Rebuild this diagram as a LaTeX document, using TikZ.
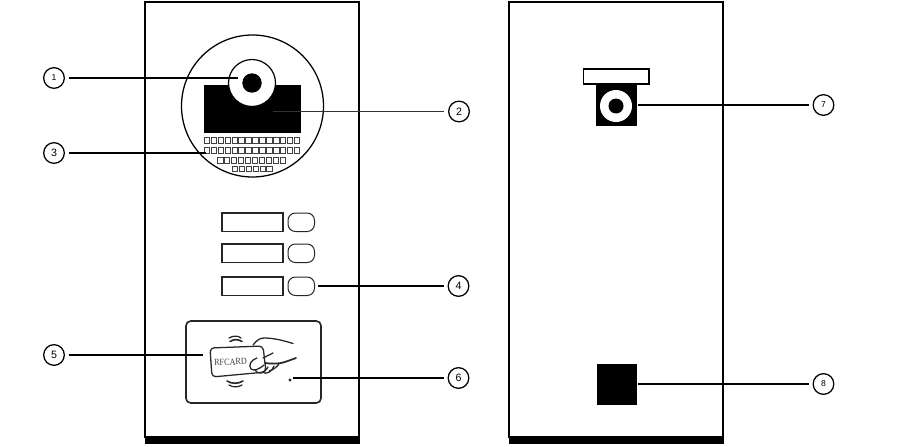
\documentclass[tikz,border=0pt]{standalone}
\usepackage{fontspec}
\setmainfont{Liberation Sans}
\newfontfamily\cardfont{Liberation Serif}
\tikzset{
  x=0.75pt,y=-0.75pt,
  panel/.style={draw=black,line width=1.1pt,fill=white},
  callout/.style={circle,draw=black,line width=0.95pt,minimum size=15.5pt,inner sep=0pt,font=\fontsize{8}{9}\selectfont},
  smallnum/.style={font=\fontsize{6.5}{7}\selectfont},
  leader/.style={draw=black,line width=0.85pt},
  blackfill/.style={fill=black,draw=none},
  grille/.style={draw=black!75,line width=0.4pt,fill=white},
  keybox/.style={draw=black!85,line width=0.95pt,fill=white},
  handline/.style={draw=black!85,line width=0.95pt,line cap=round,line join=round}
}
\newcommand{\grillerow}[4]{% x-start, y-start, count, height
  \foreach \i in {1,...,#3}{
    \pgfmathsetmacro{\xa}{#1+(\i-1)*6.95}
    \draw[grille] (\xa,#2) rectangle ++(5.3,#4);
  }
}
\begin{document}
\begin{tikzpicture}
\useasboundingbox[fill=white] (0,0) rectangle (916,446);
% panels
\draw[panel] (145,2) rectangle (359,437);
\fill[black] (144.5,436) rectangle (359.5,444);
\draw[panel] (509,2) rectangle (723,437);
\fill[black] (508.5,436) rectangle (723.5,444);
% lens dome
\draw[black,line width=0.95pt,fill=white] (252.5,106) circle (71);
\fill[black] (204,85) rectangle (301,133);
\draw[black,line width=0.9pt,fill=white] (252,83) circle (23.5);
\fill[black] (252,83) circle (9.7);
\grillerow{204}{137}{14}{6.3}
\grillerow{204}{147}{14}{6.3}
\grillerow{217.5}{157}{10}{6}
\grillerow{232}{166}{6}{5.2}
% buttons
\foreach \y in {213,244,277}{
  \draw[keybox] (222,\y) rectangle (283,\y+18.5);
  \draw[keybox,line width=0.75pt,rounded corners=5.5pt] (288,\y) rectangle (314.5,\y+18.5);
}
% card reader
\draw[draw=black!85,line width=1.2pt,rounded corners=3.5pt] (186,321) rectangle (321,403);
\draw[handline,rounded corners=3pt] (210,348) -- (263,346) -- (266,372) -- (212,377) -- cycle;
\node[font=\fontsize{7}{8}\selectfont\cardfont,text=black!75,rotate=3,inner sep=0pt,xscale=0.88] (rf) at (230.5,362) {RFCARD};
\draw[handline] (253,345) .. controls (257,340) and (260,337.5) .. (266,338) .. controls (276,338.5) and (285,341) .. (293,343.5);
\draw[handline] (263,358) -- (273,353);
\draw[handline,line width=1.3pt] (265,363) .. controls (272,364) and (279,364) .. (285,362) -- (296,358);
\draw[handline] (257,358) .. controls (251,360) and (248,365) .. (251,369) .. controls (254,371) and (258,370) .. (264,365);
\draw[handline] (255,370) .. controls (258,375) and (264,374) .. (268,367);
\draw[handline] (262,372) .. controls (266,375) and (272,372) .. (274,366);
\draw[handline] (269,371) .. controls (273,370) and (277,367) .. (279,364);
\draw[handline] (229,338) .. controls (233,335.5) and (238,335.5) .. (241,338);
\draw[handline,line width=1.2pt] (230,341.5) .. controls (234,339) and (238,339) .. (242,341.5);
\draw[handline,line width=1.2pt] (227,381) .. controls (232,384) and (238,384) .. (243,381);
\draw[handline] (229,385) .. controls (233,387.5) and (238,387.5) .. (242,385);
\fill[black!85] (290,380) circle (1.6);
% back panel parts
\fill[black] (596,84) rectangle (637,126);
\draw[black,line width=1.4pt,fill=white] (583.5,69) rectangle (649,84);
\fill[white] (616,106) circle (16);
\fill[black] (616,106) circle (7.5);
\fill[black] (597,364) rectangle (637,405);
% callouts
\node[callout,smallnum] (n1) at (54,78) {1};
\node[callout] (n2) at (459,111.5) {2};
\node[callout] (n3) at (54,153) {3};
\node[callout] (n4) at (458.5,286) {4};
\node[callout] (n5) at (54,355) {5};
\node[callout] (n6) at (458.5,378) {6};
\node[callout,smallnum] (n7) at (823.5,105) {7};
\node[callout,smallnum] (n8) at (823.5,384) {8};
\coordinate (t1) at (238,78);
\coordinate (t2) at (273,111.5);
\coordinate (t3) at (206,153);
\coordinate (t4) at (318,286);
\coordinate (t5) at (203,355);
\coordinate (t6) at (293,378);
\coordinate (t7) at (638,105);
\coordinate (t8) at (638,384);
\foreach \a in {1,3,4,5,6,7,8}{
  \draw[leader,shorten <=3pt] (n\a) -- (t\a);
}
\draw[draw=black!80,line width=0.7pt,shorten <=3pt] (n2) -- (t2);
\end{tikzpicture}
\end{document}
